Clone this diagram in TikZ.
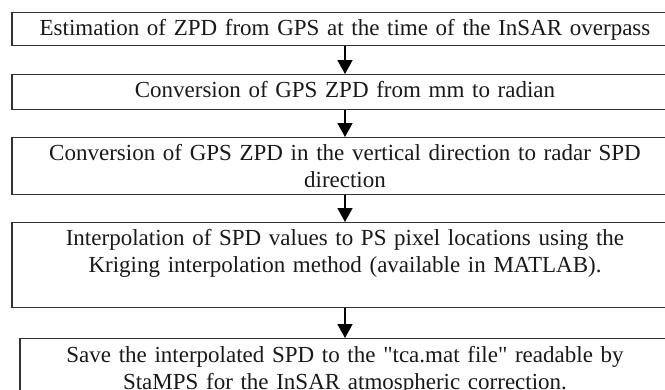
\documentclass[tikz,border=0pt]{standalone}
\usepackage{fontspec}
\setmainfont{Liberation Serif}[Ligatures=TeXOff]
\usetikzlibrary{arrows.meta,positioning}
\tikzset{
  box/.style={draw=black!80, line width=1.3pt, rectangle, anchor=north, inner sep=0pt},
  txt/.style={inner sep=0pt, align=center, text width=660pt, text=black!90,
    font=\fontsize{23}{27.5}\selectfont},
  arr/.style={draw=black, line width=1.6pt, -{Triangle[width=15pt,length=14pt]}}
}
\begin{document}
\begin{tikzpicture}[x=1pt,y=-1pt]
\useasboundingbox (0,0) rectangle (665,389);
\clip (0,0) rectangle (665,389);
\node[box, minimum width=666pt, minimum height=33pt] (b1) at (345,12) {};
\node[box, minimum width=666pt, minimum height=35pt] (b2) at (345,74) {};
\node[box, minimum width=666pt, minimum height=57pt] (b3) at (345,137) {};
\node[box, minimum width=666pt, minimum height=85pt] (b4) at (345,222) {};
\node[box, minimum width=650pt, minimum height=70pt] (b5) at (345,338) {};
\node[txt, below=3.75pt of b1.north] (t1) {\strut Estimation of ZPD from GPS at the time of the InSAR overpass};
\node[txt, below=3.75pt of b2.north] (t2) {\strut Conversion of GPS ZPD from mm to radian};
\node[txt, below=3.75pt of b3.north] (t3) {\strut Conversion of GPS ZPD in the vertical direction to radar SPD\\\strut direction};
\node[txt, below=3.75pt of b4.north] (t4) {\strut Interpolation of SPD values to PS pixel locations using the\\\strut Kriging interpolation method (available in MATLAB).};
\node[txt, below=4.75pt of b5.north] (t5) {\strut Save the interpolated SPD to the "tca.mat file" readable by\\\strut StaMPS for the InSAR atmospheric correction.};
\draw[arr] (b1.south) -- (b2.north);
\draw[arr] (b2.south) -- (b3.north);
\draw[arr] (b3.south) -- (b4.north);
\draw[arr] (b4.south) -- (b5.north);
\end{tikzpicture}
\end{document}
